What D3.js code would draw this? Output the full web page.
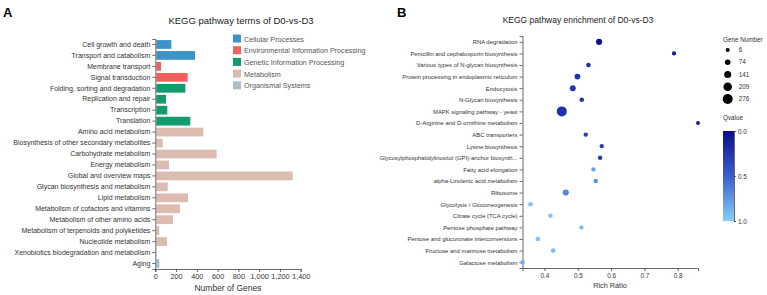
<!DOCTYPE html>
<html>
<head>
<meta charset="utf-8">
<script src="https://cdn.jsdelivr.net/npm/d3@7"></script>
<style>
  body { margin: 0; background: #fff; }
  svg { font-family: "Liberation Sans", Arial, sans-serif; }
</style>
</head>
<body>
<svg class="main" width="767" height="295"></svg>
<script>
// ---- panel A data
var termNames = ["Cell growth and death", "Transport and catabolism", "Membrane transport",
    "Signal transduction", "Folding, sorting and degradation", "Replication and repair",
    "Transcription", "Translation", "Amino acid metabolism",
    "Biosynthesis of other secondary metabolites", "Carbohydrate metabolism", "Energy metabolism",
    "Global and overview maps", "Glycan biosynthesis and metabolism", "Lipid metabolism",
    "Metabolism of cofactors and vitamins", "Metabolism of other amino acids",
    "Metabolism of terpenoids and polyketides", "Nucleotide metabolism",
    "Xenobiotics biodegradation and metabolism", "Aging"];
var termGenes = [145, 373, 45, 302, 280, 93, 106, 327, 453, 61, 581, 122, 1313, 110, 305, 228, 161, 29, 103, 3, 29];
var termClass = [0, 0, 1, 1, 2, 2, 2, 2, 3, 3, 3, 3, 3, 3, 3, 3, 3, 3, 3, 3, 4];
var classNames = ["Cellular Processes", "Environmental Information Processing",
    "Genetic Information Processing", "Metabolism", "Organismal Systems"];
var classColors = ["#3b93c6", "#f2605e", "#139a6d", "#dcbbb0", "#a8bfcc"];
var geneTicks = [0, 200, 400, 600, 800, 1000, 1200, 1400];

// ---- panel B data
var pathNames = ["RNA degradation", "Penicillin and cephalosporin biosynthesis",
    "Various types of N-glycan biosynthesis", "Protein processing in endoplasmic reticulum",
    "Endocytosis", "N-Glycan biosynthesis", "MAPK signaling pathway - yeast",
    "D-Arginine and D-ornithine metabolism", "ABC transporters", "Lysine biosynthesis",
    "Glycosylphosphatidylinositol (GPI)-anchor biosynth...", "Fatty acid elongation",
    "alpha-Linolenic acid metabolism", "Ribosome", "Glycolysis / Gluconeogenesis",
    "Citrate cycle (TCA cycle)", "Pentose phosphate pathway",
    "Pentose and glucuronate interconversions", "Fructose and mannose metabolism",
    "Galactose metabolism"];
var richRatio = [0.564, 0.789, 0.532, 0.499, 0.485, 0.512, 0.452, 0.861, 0.524, 0.572,
    0.567, 0.547, 0.554, 0.464, 0.358, 0.418, 0.511, 0.380, 0.426, 0.334];
var geneNumber = [105, 12, 30, 85, 90, 35, 276, 6, 25, 20, 28, 22, 25, 100, 35, 28, 22, 35, 32, 25];
var qvalue = [0.02, 0.08, 0.2, 0.22, 0.25, 0.27, 0.22, 0.12, 0.3, 0.3, 0.3, 0.8, 0.72, 0.68,
    0.95, 0.95, 0.93, 0.95, 0.93, 0.85];
var sizeLegend = [6, 74, 141, 209, 276];
var ratioTicks = [0.4, 0.5, 0.6, 0.7, 0.8];
var qTicks = [0, 0.5, 1];

var svg = d3.select(".main");
var axisColor = "#444", textColor = "#333";

function styleAxis(g, fs) {
    g.selectAll("path, line").attr("stroke", axisColor).attr("stroke-width", 0.8);
    g.selectAll("text").attr("fill", textColor).style("font-size", fs + "px")
        .style("font-family", "inherit");
}

// ================= Panel A
svg.append("text").attr("x", 3).attr("y", 17).text("A")
    .style("font-size", "13px").style("font-weight", "bold");
svg.append("text").attr("x", 241).attr("y", 24).attr("text-anchor", "middle")
    .text("KEGG pathway terms of D0-vs-D3").style("font-size", "9.5px").attr("fill", "#222");

var xA = d3.scaleLinear().domain([0, 1400]).range([155.3, 300.7]);
var yA = d3.scaleBand().domain(termNames).range([39, 269]).paddingInner(0.2).paddingOuter(0.1);

var gA = svg.append("g");
gA.selectAll("rect.bar").data(termNames).join("rect")
    .attr("class", "bar")
    .attr("x", xA(0) + 1)
    .attr("y", function(d) { return yA(d); })
    .attr("width", function(d, i) { return Math.max(0, xA(termGenes[i]) - xA(0)); })
    .attr("height", yA.bandwidth())
    .attr("fill", function(d, i) { return classColors[termClass[i]]; });

var axYA = gA.append("g").attr("transform", "translate(" + xA(0) + ",0)")
    .call(d3.axisLeft(yA).tickSize(3).tickPadding(2));
styleAxis(axYA, 7);

var axXA = gA.append("g").attr("transform", "translate(0,269)")
    .call(d3.axisBottom(xA).tickValues(geneTicks).tickFormat(d3.format(",")).tickSize(3).tickPadding(2));
styleAxis(axXA, 7.3);
gA.append("text").attr("x", 228).attr("y", 291).attr("text-anchor", "middle")
    .text("Number of Genes").style("font-size", "8.5px").attr("fill", textColor);

// legend A
var legA = svg.append("g").selectAll("g").data(classNames).join("g")
    .attr("transform", function(d, i) { return "translate(233," + (34.5 + i * 11.7) + ")"; });
legA.append("rect").attr("width", 8).attr("height", 8)
    .attr("fill", function(d, i) { return classColors[i]; });
legA.append("text").attr("x", 11).attr("y", 7).text(function(d) { return d; })
    .style("font-size", "7.2px").attr("fill", "#555");

// ================= Panel B
svg.append("text").attr("x", 397).attr("y", 17).text("B")
    .style("font-size", "13px").style("font-weight", "bold");
svg.append("text").attr("x", 578).attr("y", 23).attr("text-anchor", "middle")
    .text("KEGG pathway enrichment of D0-vs-D3").style("font-size", "8.5px").attr("fill", "#222");

var xB = d3.scaleLinear().domain(d3.extent(richRatio)).range([522.5, 698]);
var yB = d3.scalePoint().domain(pathNames).range([36, 268]).padding(0.5);
var rB = d3.scaleLinear().domain([6, 276]).range([2, 5]);
var cB = d3.scaleLinear().domain([0, 0.5, 1]).range(["#0a0c8c", "#3a5fcd", "#87cefa"]);

var gB = svg.append("g");
var axYB = gB.append("g").attr("transform", "translate(" + xB.range()[0] + ",0)")
    .call(d3.axisLeft(yB).tickSize(3).tickPadding(2));
styleAxis(axYB, 5.9);

var axXB = gB.append("g").attr("transform", "translate(0,268)")
    .call(d3.axisBottom(xB).tickValues(ratioTicks).tickFormat(d3.format(".1f")).tickSize(3).tickPadding(3));
styleAxis(axXB, 6.3);
gB.append("text").attr("x", 610).attr("y", 288).attr("text-anchor", "middle")
    .text("Rich Ratio").style("font-size", "7.3px").attr("fill", textColor);

gB.selectAll("circle.pt").data(pathNames).join("circle")
    .attr("class", "pt")
    .attr("cx", function(d, i) { return xB(richRatio[i]); })
    .attr("cy", function(d) { return yB(d); })
    .attr("r", function(d, i) { return rB(geneNumber[i]); })
    .attr("fill", function(d, i) { return cB(qvalue[i]); });

// size legend
svg.append("text").attr("x", 723).attr("y", 42).text("Gene Number")
    .style("font-size", "6.3px").attr("fill", textColor);
var legSizeY = d3.scalePoint().domain(sizeLegend).range([50, 99]);
var legS = svg.append("g").selectAll("g").data(sizeLegend).join("g")
    .attr("transform", function(d) { return "translate(727.7," + legSizeY(d) + ")"; });
legS.append("circle").attr("r", function(d) { return rB(d); }).attr("fill", "#000");
legS.append("text").attr("x", 11).attr("y", 2.2).text(function(d) { return d; })
    .style("font-size", "6.3px").attr("fill", textColor);

// colour bar
svg.append("text").attr("x", 723).attr("y", 120).text("Qvalue")
    .style("font-size", "6.3px").attr("fill", textColor);
var grad = svg.append("defs").append("linearGradient").attr("id", "qgrad")
    .attr("x1", 0).attr("y1", 0).attr("x2", 0).attr("y2", 1);
grad.selectAll("stop").data(cB.domain()).join("stop")
    .attr("offset", function(d) { return d; })
    .attr("stop-color", function(d) { return cB(d); });
var qY = d3.scaleLinear().domain([0, 1]).range([131, 221]);
svg.append("rect").attr("x", 723).attr("y", qY(0)).attr("width", 11)
    .attr("height", qY(1) - qY(0)).attr("fill", "url(#qgrad)");
var axQ = svg.append("g").attr("transform", "translate(734,0)")
    .call(d3.axisRight(qY).tickValues(qTicks).tickFormat(d3.format(".1f")).tickSize(2).tickPadding(2));
styleAxis(axQ, 6.3);
</script>
</body>
</html>
